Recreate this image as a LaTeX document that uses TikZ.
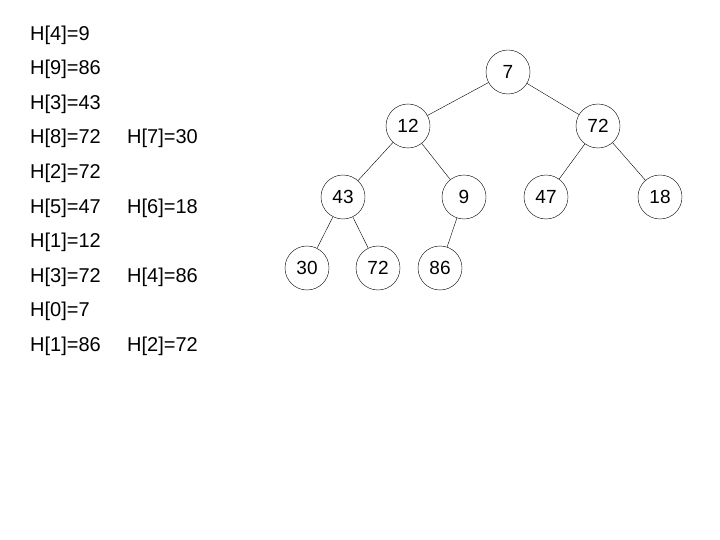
\documentclass[tikz,border=0pt]{standalone}
\usepackage{fontspec}
\setmainfont{Liberation Sans}
\begin{document}
\begin{tikzpicture}[x=1pt,y=-1pt,
  nd/.style={circle,draw=black,fill=white,minimum size=44pt,inner sep=0pt,font=\fontsize{19}{22}\selectfont},
  lbl/.style={anchor=west,inner sep=0pt,font=\fontsize{20}{24}\selectfont}]
\useasboundingbox (0,0) rectangle (720,540);
\foreach \t [count=\i] in {H[4]=9,H[9]=86,H[3]=43,H[8]=72,H[2]=72,H[5]=47,H[1]=12,H[3]=72,H[0]=7,H[1]=86}
  \node[lbl] (l\i) at (30,{35+34.6*(\i-1)}) {\t};
\node[lbl] (r4) at (127,{35+34.6*3}) {H[7]=30};
\node[lbl] (r6) at (127,{35+34.6*5}) {H[6]=18};
\node[lbl] (r8) at (127,{35+34.6*7}) {H[4]=86};
\node[lbl] (r10) at (127,{35+34.6*9}) {H[2]=72};
\node[nd] (a) at (508,72) {7};
\node[nd] (b) at (408,126) {12};
\node[nd] (c) at (598,126) {72};
\node[nd] (d) at (343,197) {43};
\node[nd] (e) at (464,197) {9};
\node[nd] (f) at (546,197) {47};
\node[nd] (g) at (660,197) {18};
\node[nd] (h) at (307,268) {30};
\node[nd] (i) at (378,268) {72};
\node[nd] (j) at (440,268) {86};
\draw (a)--(b) (a)--(c) (b)--(d) (b)--(e) (c)--(f) (c)--(g) (d)--(h) (d)--(i) (e)--(j);
\end{tikzpicture}
\end{document}
